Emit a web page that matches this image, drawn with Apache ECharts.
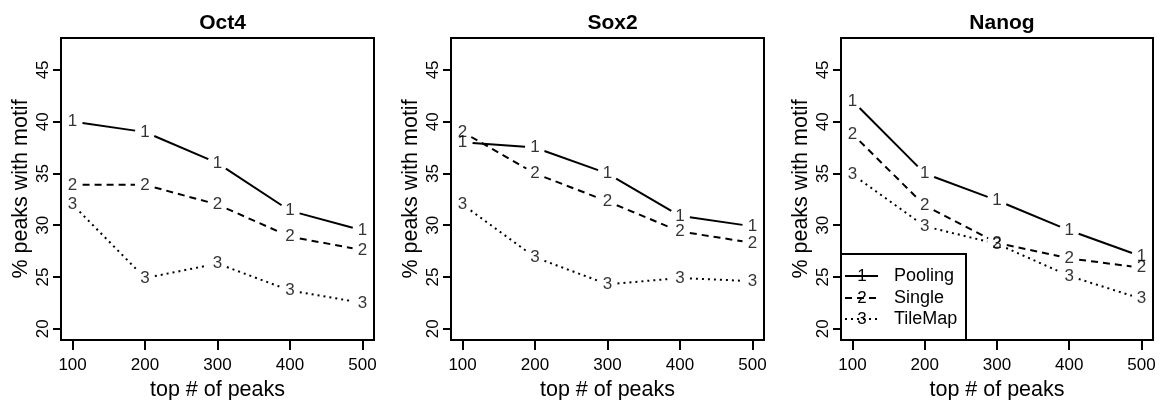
<!DOCTYPE html>
<html>
<head>
<meta charset="utf-8">
<script src="https://cdn.jsdelivr.net/npm/echarts@6/dist/echarts.min.js"></script>
<style>
html,body{margin:0;padding:0;background:#fff;}
#chart{width:1164px;height:400px;}
</style>
</head>
<body>
<div id="chart"></div>
<script>
// ---- data ----
const xValues = [100, 200, 300, 400, 500];
const xTicks = [100, 200, 300, 400, 500];
const yTicks = [20, 25, 30, 35, 40, 45];
const panelTitles = ['Oct4', 'Sox2', 'Nanog'];
const methods = ['Pooling', 'Single', 'TileMap'];
const methodSymbols = ['1', '2', '3'];

const oct4Pooling  = [40.0, 39.0, 36.0, 31.4, 29.5];
const oct4Single   = [33.9, 33.9, 32.0, 28.9, 27.6];
const oct4TileMap  = [32.0, 24.9, 26.3, 23.7, 22.5];

const sox2Pooling  = [38.0, 37.5, 35.0, 30.9, 29.9];
const sox2Single   = [39.0, 35.0, 32.3, 29.4, 28.3];
const sox2TileMap  = [32.0, 26.9, 24.3, 24.9, 24.6];

const nanogPooling = [42.0, 35.0, 32.4, 29.5, 27.0];
const nanogSingle  = [38.8, 31.9, 28.3, 26.8, 25.9];
const nanogTileMap = [34.9, 29.9, 28.2, 25.1, 22.9];

const panelData = [
  [oct4Pooling, oct4Single, oct4TileMap],
  [sox2Pooling, sox2Single, sox2TileMap],
  [nanogPooling, nanogSingle, nanogTileMap]
];

// ---- layout / style ----
const FONT = 'Liberation Sans, Arial, Helvetica, sans-serif';
const gridBoxes = [
  {left: 61, top: 38, width: 313, height: 302},
  {left: 451, top: 38, width: 313, height: 302},
  {left: 841, top: 38, width: 312, height: 302}
];
const dashStyles = [null, [7, 5], [2, 4]];
const LINE_W = 2;
const GAP = 10;

const grids = [], xAxes = [], yAxes = [], titles = [], series = [];

gridBoxes.forEach((g, p) => {
  grids.push({left: g.left, top: g.top, width: g.width, height: g.height,
    show: true, borderColor: '#000', borderWidth: 2, backgroundColor: 'transparent',
    containLabel: false, outerBoundsMode: 'none'});
  xAxes.push({
    type: 'value', gridIndex: p, min: 84, max: 516,
    name: 'top # of peaks', nameLocation: 'middle', nameGap: 28,
    nameTextStyle: {fontFamily: FONT, fontSize: 21.5, color: '#000'},
    axisLine: {show: false},
    axisTick: {show: true, length: 10, lineStyle: {color: '#000', width: 2}, customValues: xTicks},
    axisLabel: {show: true, margin: 17, fontFamily: FONT, fontSize: 17, color: '#000', customValues: xTicks},
    splitLine: {show: false}
  });
  yAxes.push({
    type: 'value', gridIndex: p, min: 18.92, max: 48.08,
    name: '% peaks with motif', nameLocation: 'middle', nameGap: 29, nameRotate: 90,
    nameTextStyle: {fontFamily: FONT, fontSize: 21.5, color: '#000'},
    axisLine: {show: false},
    axisTick: {show: true, length: 8, lineStyle: {color: '#000', width: 2}, customValues: yTicks},
    axisLabel: {show: true, margin: 9, rotate: 90, fontFamily: FONT, fontSize: 17, color: '#000', customValues: yTicks},
    splitLine: {show: false}
  });
  titles.push({
    text: panelTitles[p], left: g.left + g.width / 2, top: 8, textAlign: 'center',
    textStyle: {fontFamily: FONT, fontSize: 21, fontWeight: 'bold', color: '#000'}
  });

  panelData[p].forEach((vals, m) => {
    const pts = xValues.map((x, i) => [x, vals[i], i]);
    // connecting segments with gaps around the numbered points (R type="b")
    series.push({
      type: 'custom', name: methods[m], coordinateSystem: 'cartesian2d',
      xAxisIndex: p, yAxisIndex: p, encode: {x: 0, y: 1},
      data: pts, silent: true, z: 2,
      renderItem: function (params, api) {
        const i = api.value(2);
        if (i >= pts.length - 1) return null;
        const a = api.coord([api.value(0), api.value(1)]);
        const b = api.coord([pts[i + 1][0], pts[i + 1][1]]);
        const dx = b[0] - a[0], dy = b[1] - a[1];
        const len = Math.sqrt(dx * dx + dy * dy);
        if (len <= 2 * GAP) return null;
        const ux = dx / len, uy = dy / len;
        return {
          type: 'line',
          shape: {x1: a[0] + ux * GAP, y1: a[1] + uy * GAP, x2: b[0] - ux * GAP, y2: b[1] - uy * GAP},
          style: {stroke: '#000', lineWidth: LINE_W, lineDash: dashStyles[m] || null, fill: null}
        };
      }
    });
    // numbered point characters
    series.push({
      type: 'scatter', name: methods[m] + ' pts', xAxisIndex: p, yAxisIndex: p,
      data: pts.map(d => [d[0], d[1]]), symbol: 'circle', symbolSize: 2, silent: true, z: 3,
      itemStyle: {color: 'rgba(0,0,0,0)'},
      label: {show: true, position: 'inside', formatter: methodSymbols[m],
        fontFamily: FONT, fontSize: 17, color: '#000'}
    });
  });
});

// legend box (bottom-left of Nanog panel), drawn like R's legend()
const lg = {x: 841, y: 254, w: 125, h: 86};
const legendRows = [276, 298, 319];
const legendGraphic = [
  {type: 'rect', shape: {x: lg.x, y: lg.y, width: lg.w, height: lg.h},
   style: {fill: '#fff', stroke: '#000', lineWidth: 2}, z: 10}
];
methods.forEach((name, m) => {
  const y = legendRows[m];
  legendGraphic.push({type: 'line', shape: {x1: 845, y1: y, x2: 878, y2: y},
    style: {stroke: '#000', lineWidth: LINE_W, lineDash: dashStyles[m] || null}, z: 11});
  legendGraphic.push({type: 'text', x: 862, y: y, z: 12,
    style: {text: methodSymbols[m], fontFamily: FONT, fontSize: 17, fill: '#000', align: 'center', verticalAlign: 'middle'}});
  legendGraphic.push({type: 'text', x: 894, y: y, z: 12,
    style: {text: name, fontFamily: FONT, fontSize: 18, fill: '#000', align: 'left', verticalAlign: 'middle'}});
});

const chart = echarts.init(document.getElementById('chart'), null, {renderer: 'canvas'});
chart.setOption({
  animation: false,
  backgroundColor: '#fff',
  title: titles,
  grid: grids,
  xAxis: xAxes,
  yAxis: yAxes,
  series: series,
  graphic: legendGraphic
});
</script>
</body>
</html>
